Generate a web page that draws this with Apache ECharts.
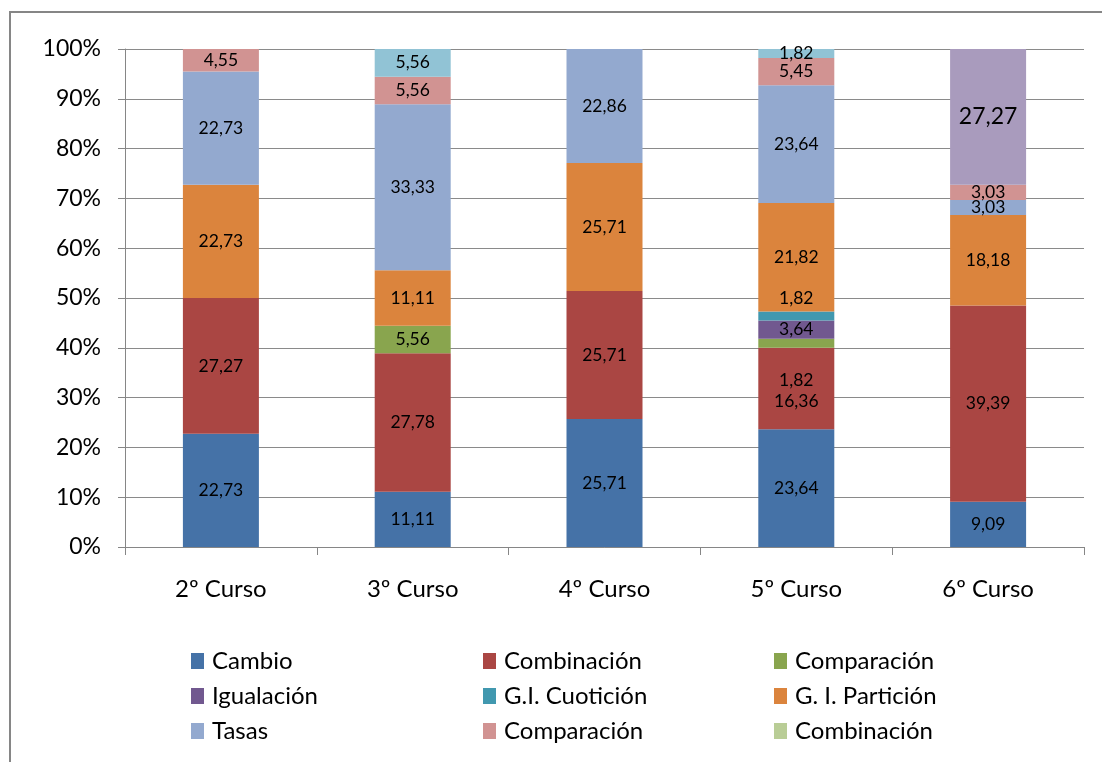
<!DOCTYPE html>
<html>
<head>
<meta charset="utf-8">
<script src="https://cdn.jsdelivr.net/npm/echarts@6/dist/echarts.min.js"></script>
<style>
html, body { margin: 0; padding: 0; background: #fff; }
#chart { width: 1102px; height: 762px; }
</style>
</head>
<body>
<div id="chart"></div>
<script>
// cursos (eje x)
var cursos = ['2º Curso', '3º Curso', '4º Curso', '5º Curso', '6º Curso'];

// porcentajes por tipo de problema, de abajo hacia arriba
var cambio        = [22.73, 11.11, 25.71, 23.64, 9.09];
var combinacion   = [27.27, 27.78, 25.71, 16.36, 39.39];
var comparacion   = [null, 5.56, null, 1.82, null];
var igualacion    = [null, null, null, 3.64, null];
var cuoticion     = [null, null, null, 1.82, null];
var particion     = [22.73, 11.11, 25.71, 21.82, 18.18];
var tasas         = [22.73, 33.33, 22.86, 23.64, 3.03];
var comparacion2  = [4.55, 5.56, null, 5.45, 3.03];
var combinacion2  = [null, null, null, null, null];
var serie10       = [null, null, null, null, 27.27];
var serie11       = [null, 5.56, null, 1.82, null];

var yTicks = [0, 10, 20, 30, 40, 50, 60, 70, 80, 90, 100];

var fontName = 'Lato, "Open Sans", sans-serif';

// nombre, datos, color  (los nombres repetidos llevan un espacio para no fusionarse en la leyenda)
var seriesDef = [
    ['Cambio', cambio, '#4572A7'],
    ['Combinación', combinacion, '#AA4643'],
    ['Comparación', comparacion, '#89A54E'],
    ['Igualación', igualacion, '#71588F'],
    ['G.I. Cuotición', cuoticion, '#4198AF'],
    ['G. I. Partición', particion, '#DB843D'],
    ['Tasas', tasas, '#93A9CF'],
    ['Comparación ', comparacion2, '#D19392'],
    ['Combinación ', combinacion2, '#B9CD96'],
    ['Serie 10', serie10, '#A99BBD'],
    ['Serie 11', serie11, '#91C3D5']
];

// etiquetas desplazadas a mano en el original (5º Curso)
var labelShift = {
    'Comparación': {3: 37},
    'G.I. Cuotición': {3: -18},
    'Combinación': {3: 13}
};

var fmt = function (v) {
    return v.toFixed(2).replace('.', ',');
};

var series = seriesDef.map(function (d) {
    var name = d[0];
    return {
        name: name,
        type: 'bar',
        stack: 'total',
        barWidth: 76,
        itemStyle: { color: d[2] },
        label: {
            show: true,
            position: 'inside',
            color: '#000',
            fontSize: name === 'Serie 10' ? 23 : 17.5,
            fontFamily: fontName,
            formatter: function (p) { return p.value == null ? '' : fmt(p.value); }
        },
        data: d[1].map(function (v, i) {
            var shift = labelShift[name] && labelShift[name][i];
            if (v != null && shift) {
                return { value: v, label: { offset: [0, shift] } };
            }
            return v;
        })
    };
});

var legendText = { fontSize: 24, color: '#000', fontFamily: fontName, padding: [0, 0, 0, 3] };
var legendBase = {
    orient: 'vertical',
    top: 644,
    itemWidth: 13,
    itemHeight: 16,
    itemGap: 11,
    icon: 'rect',
    textStyle: legendText,
    formatter: function (n) { return n.trim(); }
};

var myChart = echarts.init(document.getElementById('chart'));
myChart.setOption({
    backgroundColor: '#fff',
    animation: false,
    graphic: [{
        type: 'rect',
        shape: { x: 10, y: 12, width: 1100, height: 760 },
        style: { fill: 'none', stroke: '#868686', lineWidth: 2 },
        silent: true
    }],
    legend: [
        Object.assign({ left: 186, data: ['Cambio', 'Igualación', 'Tasas'] }, legendBase),
        Object.assign({ left: 478, data: ['Combinación', 'G.I. Cuotición', 'Comparación '] }, legendBase),
        Object.assign({ left: 769, data: ['Comparación', 'G. I. Partición', 'Combinación '] }, legendBase)
    ],
    grid: { left: 125, right: 18, top: 49, bottom: 215 },
    xAxis: {
        type: 'category',
        data: cursos,
        axisLine: { lineStyle: { color: '#868686' } },
        axisTick: { show: true, length: 8, lineStyle: { color: '#868686' } },
        axisLabel: { color: '#000', fontSize: 24, margin: 30, fontFamily: fontName }
    },
    yAxis: {
        type: 'value',
        min: yTicks[0],
        max: yTicks[yTicks.length - 1],
        interval: 10,
        axisLine: { show: true, lineStyle: { color: '#868686' } },
        axisTick: { show: true, length: 7, lineStyle: { color: '#868686' } },
        axisLabel: { color: '#000', fontSize: 23, margin: 24, fontFamily: fontName, formatter: '{value}%' },
        splitLine: { lineStyle: { color: '#8a8a8a' } }
    },
    series: series
});
</script>
</body>
</html>
